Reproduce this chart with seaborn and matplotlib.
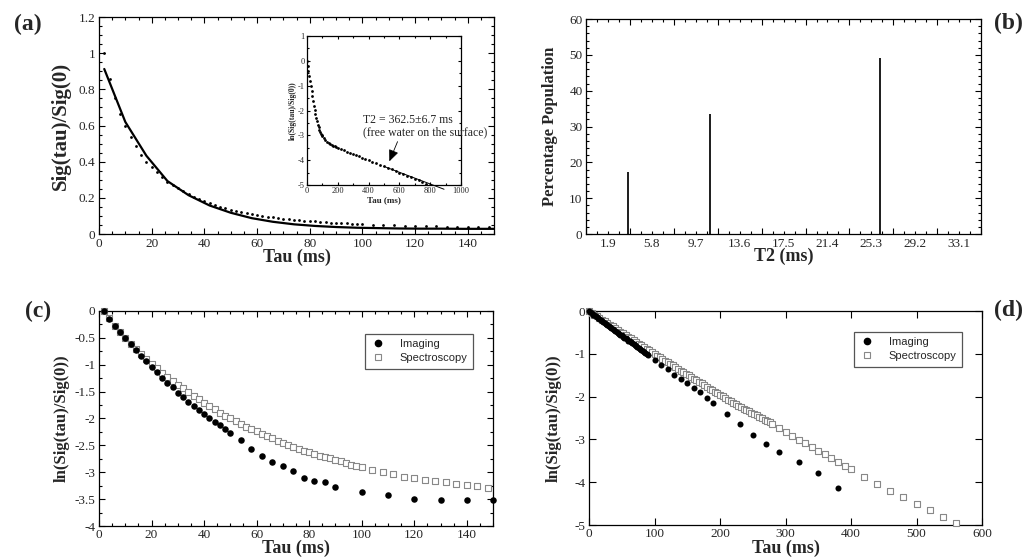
import matplotlib
matplotlib.use("Agg")
import seaborn as sns
import matplotlib.pyplot as plt
from matplotlib.ticker import MultipleLocator, AutoMinorLocator, FuncFormatter
from matplotlib.lines import Line2D

# ---- (a) normalised decay: spectroscopy points + fitted curve
a_tau = list(range(2, 101, 2)) + list(range(104, 149, 4))
a_sig = [1.0, 0.86, 0.75, 0.665, 0.595, 0.535, 0.485, 0.44, 0.40, 0.37,
         0.343, 0.315, 0.29, 0.27, 0.253, 0.237, 0.221, 0.206, 0.194, 0.181,
         0.17, 0.16, 0.151, 0.142, 0.135, 0.129, 0.123, 0.117, 0.111, 0.106,
         0.101, 0.097, 0.093, 0.09, 0.086, 0.083, 0.08, 0.077, 0.074, 0.072,
         0.07, 0.068, 0.066, 0.064, 0.063, 0.061, 0.059, 0.057, 0.056, 0.055,
         0.052, 0.05, 0.048, 0.046, 0.045, 0.043, 0.042, 0.041, 0.04, 0.039, 0.038, 0.037]
a_fit_tau = [2, 10, 18, 26, 34, 42, 50, 58, 66, 74, 82, 90, 98, 106, 114, 122, 130, 138, 146, 150]
a_fit = [0.913, 0.62, 0.433, 0.293, 0.215, 0.158, 0.118, 0.088, 0.068, 0.054,
         0.045, 0.039, 0.035, 0.033, 0.031, 0.03, 0.03, 0.029, 0.029, 0.029]

# inset of (a): log decay over long times
in_tau = list(range(0, 101, 5)) + list(range(110, 201, 10)) + list(range(220, 401, 20)) + list(range(425, 801, 25))
in_ln = [0, -0.22, -0.42, -0.62, -0.82, -1.0, -1.2, -1.4, -1.6, -1.8, -1.98,
         -2.14, -2.3, -2.44, -2.57, -2.68, -2.78, -2.86, -2.93, -2.99, -3.04,
         -3.12, -3.19, -3.25, -3.3, -3.34, -3.38, -3.41, -3.44, -3.47, -3.5,
         -3.55, -3.6, -3.65, -3.7, -3.75, -3.8, -3.85, -3.9, -3.95, -4.0,
         -4.06, -4.12, -4.19, -4.25, -4.31, -4.37, -4.43, -4.5, -4.56, -4.62,
         -4.69, -4.75, -4.81, -4.87, -4.94, -5.0]
in_fit_tau = [500, 890]
in_fit = [-4.25, -5.17]

# ---- (b) T2 distribution
b_t2 = [3.76, 11.02, 26.1]
b_pct = [17.3, 33.5, 49.1]
b_ticklabels = ["1.9", "5.8", "9.7", "13.6", "17.5", "21.4", "25.3", "29.2", "33.1"]

# ---- (c) short-time log decay
c_img_tau = list(range(2, 51, 2)) + list(range(54, 91, 4)) + list(range(100, 151, 10))
c_img = [0.0, -0.15, -0.28, -0.40, -0.51, -0.62, -0.73, -0.83, -0.93, -1.04,
         -1.14, -1.24, -1.34, -1.42, -1.52, -1.60, -1.69, -1.77, -1.85, -1.92,
         -1.99, -2.06, -2.13, -2.20, -2.27,
         -2.40, -2.56, -2.69, -2.81, -2.89, -2.97, -3.10, -3.16, -3.18, -3.27,
         -3.36, -3.42, -3.50, -3.52, -3.52, -3.51]
c_spec_tau = list(range(2, 101, 2)) + list(range(104, 149, 4))
c_spec = [0.00, -0.14, -0.28, -0.40, -0.51, -0.61, -0.71, -0.80, -0.90, -0.98,
          -1.06, -1.15, -1.23, -1.30, -1.37, -1.44, -1.51, -1.58, -1.64, -1.71,
          -1.77, -1.83, -1.89, -1.95, -2.00, -2.05, -2.10, -2.15, -2.20, -2.24,
          -2.29, -2.33, -2.37, -2.41, -2.45, -2.49, -2.53, -2.56, -2.60, -2.63,
          -2.66, -2.69, -2.72, -2.74, -2.77, -2.80, -2.83, -2.86, -2.88, -2.90,
          -2.96, -3.00, -3.04, -3.08, -3.11, -3.14, -3.16, -3.19, -3.21, -3.24, -3.26, -3.29]

# ---- (d) long-time log decay
d_img_tau = list(range(0, 91, 2)) + list(range(100, 191, 10)) + [210, 230, 250, 270, 290, 320, 350, 380]
d_img = [0, -0.03, -0.05, -0.08, -0.10, -0.12, -0.14, -0.17, -0.19, -0.21,
         -0.23, -0.26, -0.28, -0.30, -0.32, -0.35, -0.37, -0.39, -0.41, -0.44,
         -0.46, -0.48, -0.51, -0.53, -0.55, -0.57, -0.60, -0.62, -0.64, -0.66,
         -0.69, -0.71, -0.73, -0.75, -0.78, -0.80, -0.82, -0.85, -0.87, -0.89,
         -0.91, -0.94, -0.96, -0.98, -1.01, -1.03,
         -1.15, -1.25, -1.36, -1.50, -1.59, -1.68, -1.80, -1.90, -2.03, -2.15,
         -2.40, -2.65, -2.89, -3.10, -3.30, -3.52, -3.78, -4.13]
d_spec_tau = list(range(0, 281, 4)) + list(range(290, 401, 10)) + list(range(420, 561, 20))
d_spec = [0.00, -0.04, -0.08, -0.12, -0.16, -0.20, -0.24, -0.28, -0.32, -0.36,
          -0.40, -0.44, -0.48, -0.52, -0.56, -0.60, -0.64, -0.68, -0.72, -0.76,
          -0.80, -0.84, -0.88, -0.92, -0.96, -1.00, -1.04, -1.08, -1.12, -1.16,
          -1.19, -1.23, -1.27, -1.31, -1.35, -1.39, -1.43, -1.46, -1.50, -1.54,
          -1.58, -1.62, -1.66, -1.69, -1.73, -1.77, -1.81, -1.84, -1.88, -1.92,
          -1.96, -1.99, -2.03, -2.07, -2.10, -2.14, -2.18, -2.21, -2.25, -2.28,
          -2.31, -2.34, -2.38, -2.41, -2.44, -2.47, -2.51, -2.54, -2.57, -2.60, -2.63,
          -2.74, -2.83, -2.92, -3.01, -3.09, -3.18, -3.27, -3.35, -3.44, -3.52, -3.62, -3.70,
          -3.87, -4.04, -4.20, -4.35, -4.50, -4.65, -4.81, -4.95]

sns.set_style("ticks")
plt.rcParams['font.family'] = ['Liberation Serif', 'DejaVu Serif']
plt.rcParams['axes.unicode_minus'] = False

fig = plt.figure(figsize=(10.29, 5.6), dpi=100)
ax_a = fig.add_axes([0.0962, 0.582, 0.384, 0.3875])
ax_b = fig.add_axes([0.5695, 0.582, 0.384, 0.384])
ax_c = fig.add_axes([0.0962, 0.0607, 0.383, 0.384])
ax_d = fig.add_axes([0.5724, 0.0625, 0.382, 0.382])
ax_in = fig.add_axes([0.2983, 0.6696, 0.1497, 0.266])

gfmt = FuncFormatter(lambda v, p: f"{v:g}")


def style(ax, size=9.5, major=4, minor=2.2):
    ax.tick_params(which='both', direction='in', top=True, right=True,
                   labelsize=size, width=0.8, pad=2.5, color='black')
    ax.tick_params(which='major', length=major)
    ax.tick_params(which='minor', length=minor)
    for s in ax.spines.values():
        s.set_linewidth(0.9)
        s.set_color('black')


lab = dict(fontweight='bold')

# (a)
sns.lineplot(x=a_fit_tau, y=a_fit, color='black', lw=1.6, estimator=None, ax=ax_a)
sns.scatterplot(x=a_tau, y=a_sig, color='black', s=4, linewidth=0, ax=ax_a)
ax_a.set_xlim(0, 150)
ax_a.set_ylim(0, 1.2)
ax_a.xaxis.set_major_locator(MultipleLocator(20))
ax_a.xaxis.set_minor_locator(AutoMinorLocator(4))
ax_a.yaxis.set_major_locator(MultipleLocator(0.2))
ax_a.yaxis.set_minor_locator(AutoMinorLocator(4))
ax_a.yaxis.set_major_formatter(gfmt)
style(ax_a)
ax_a.set_xlabel("Tau (ms)", fontsize=13, **lab)
ax_a.set_ylabel("Sig(tau)/Sig(0)", fontsize=15, **lab)
ax_a.xaxis.set_label_coords(0.5, -0.068)
ax_a.yaxis.set_label_coords(-0.072, 0.5)

# inset
sns.scatterplot(x=in_tau, y=in_ln, color='black', s=4, linewidth=0, ax=ax_in)
sns.lineplot(x=in_fit_tau, y=in_fit, color='black', lw=0.7, estimator=None, ax=ax_in)
for ln in ax_in.lines:
    ln.set_clip_on(False)
ax_in.set_xlim(0, 1000)
ax_in.set_ylim(-5, 1)
ax_in.xaxis.set_major_locator(MultipleLocator(200))
ax_in.xaxis.set_minor_locator(AutoMinorLocator(2))
ax_in.yaxis.set_major_locator(MultipleLocator(1))
ax_in.yaxis.set_minor_locator(AutoMinorLocator(2))
style(ax_in, size=6, major=2.5, minor=1.3)
ax_in.tick_params(pad=1.5)
ax_in.set_xlabel("Tau (ms)", fontsize=6.5, labelpad=0.5, **lab)
ax_in.set_ylabel("ln(Sig(tau)/Sig(0))", fontsize=5.5, labelpad=1, **lab)
ax_in.text(364, -2.15, "T2 = 362.5\u00b16.7 ms\n(free water on the surface)",
           fontsize=8.5, ha='left', va='top', linespacing=1.0, clip_on=False)
ax_in.annotate("", xy=(528, -4.15), xytext=(595, -3.15),
               arrowprops=dict(arrowstyle='-|>,head_length=0.7,head_width=0.3',
                               color='black', lw=0.6))

# (b)
ax_b.bar(b_t2, b_pct, width=0.16, color='#222222', edgecolor='none')
ax_b.set_xlim(0, 35.1)
ax_b.set_ylim(0, 60)
ax_b.xaxis.set_major_locator(MultipleLocator(3.9))
ax_b.xaxis.set_minor_locator(MultipleLocator(0.975))
ax_b.xaxis.set_major_formatter(FuncFormatter(lambda v, p: ""))


def b_minor(v, p):
    k = int(round(v / 0.975))
    if k % 4 == 2 and 0 <= (k - 2) // 4 < len(b_ticklabels):
        return b_ticklabels[(k - 2) // 4]
    return ""


ax_b.xaxis.set_minor_formatter(FuncFormatter(b_minor))
ax_b.yaxis.set_major_locator(MultipleLocator(10))
ax_b.yaxis.set_minor_locator(AutoMinorLocator(5))
style(ax_b)
ax_b.tick_params(axis='x', which='minor', labelsize=9.5, pad=2.5)
ax_b.set_xlabel("T2 (ms)", fontsize=13, **lab)
ax_b.set_ylabel("Percentage Population", fontsize=12, **lab)
ax_b.xaxis.set_label_coords(0.5, -0.064)
ax_b.yaxis.set_label_coords(-0.07, 0.5)

# (c) and (d)
legend_handles = [
    Line2D([], [], ls='', marker='o', color='black', markersize=4.5, label='Imaging'),
    Line2D([], [], ls='', marker='s', mfc='white', mec='#888888', mew=0.8, markersize=4.5, label='Spectroscopy'),
]

for ax, stau, sval, itau, ival, s_c, s_s in [
        (ax_c, c_spec_tau, c_spec, c_img_tau, c_img, 22, 19),
        (ax_d, d_spec_tau, d_spec, d_img_tau, d_img, 19, 17)]:
    sns.scatterplot(x=stau, y=sval, marker='s', s=s_s, facecolor='white',
                    edgecolor='#888888', linewidth=0.8, clip_on=False, ax=ax, zorder=3)
    sns.scatterplot(x=itau, y=ival, marker='o', s=s_c, color='black',
                    linewidth=0, clip_on=False, ax=ax, zorder=4)
    ax.yaxis.set_major_formatter(gfmt)
    ax.set_xlabel("Tau (ms)", fontsize=13, **lab)
    ax.set_ylabel("ln(Sig(tau)/Sig(0))", fontsize=12, **lab)

ax_c.set_xlim(0, 150)
ax_c.set_ylim(-4, 0)
ax_c.xaxis.set_major_locator(MultipleLocator(20))
ax_c.xaxis.set_minor_locator(AutoMinorLocator(4))
ax_c.yaxis.set_major_locator(MultipleLocator(0.5))
ax_c.yaxis.set_minor_locator(AutoMinorLocator(2))
style(ax_c)
ax_c.xaxis.set_label_coords(0.5, -0.064)
ax_c.yaxis.set_label_coords(-0.075, 0.5)

ax_d.set_xlim(0, 600)
ax_d.set_ylim(-5, 0)
ax_d.xaxis.set_major_locator(MultipleLocator(100))
ax_d.yaxis.set_major_locator(MultipleLocator(1))
style(ax_d, major=5)
ax_d.xaxis.set_label_coords(0.5, -0.07)
ax_d.yaxis.set_label_coords(-0.07, 0.5)

for ax, anchor in [(ax_c, (0.964, 0.921)), (ax_d, (0.964, 0.93))]:
    leg = ax.legend(handles=legend_handles, loc='upper right', bbox_to_anchor=anchor,
                    prop={'family': 'Liberation Sans', 'size': 8}, frameon=True,
                    fancybox=False, framealpha=1, edgecolor='#555555',
                    borderpad=0.5, handletextpad=1.4, handlelength=1.2, labelspacing=0.35)
    leg.get_frame().set_linewidth(0.9)

# panel letters
for x, y, t in [(0.027, 0.957, '(a)'), (0.98, 0.959, '(b)'), (0.037, 0.443, '(c)'), (0.98, 0.446, '(d)')]:
    fig.text(x, y, t, fontsize=17, fontweight='bold', ha='center', va='center')

fig.savefig("out.png", dpi=100)
